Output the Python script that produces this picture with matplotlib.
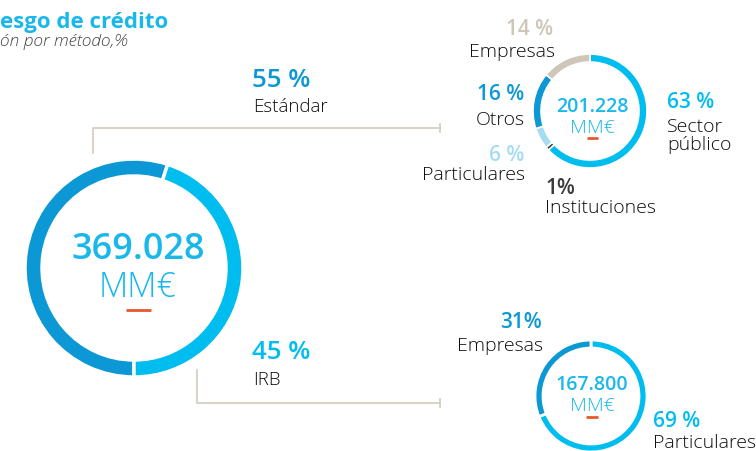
import matplotlib
matplotlib.use("Agg")
from matplotlib import pyplot as plt

plt.rcParams['font.family'] = ['Open Sans', 'DejaVu Sans']

# picture size in pixels
W, H = 756, 451

# data
main_labels = ["Estándar", "IRB"]
main_values = [55, 45]
main_total = "369.028"

std_labels = ["Sector\npúblico", "Instituciones", "Particulares", "Otros", "Empresas"]
std_values = [63, 1, 6, 16, 14]
std_total = "201.228"

irb_labels = ["Particulares", "Empresas"]
irb_values = [69, 31]
irb_total = "167.800"

# colours
BLUE = '#0B98D5'
LIGHT = '#00BDF0'
PALE = '#A6DCF0'
BEIGE = '#CEC6B6'
DARK = '#3A3A3A'
TXT = '#0E0E0E'
NUM = '#1AB8EA'
ORANGE = '#E8582C'
LINE = '#D2CABD'

fig = plt.figure(figsize=(W / 100, H / 100), dpi=100)
ax = fig.add_axes([0, 0, 1, 1])


def donut(values, colors, cx, cy, r, w, start, lw):
    ax.pie(values, colors=colors, startangle=start, counterclock=False,
           radius=r, center=(cx, H - cy),
           wedgeprops=dict(width=w, edgecolor='white', linewidth=lw))


def txt(x, y, s, size, color, weight='light', ha='left', style='normal'):
    # y is the baseline, measured from the top of the picture
    ax.text(x, H - y, s, fontsize=size, color=color, fontweight=weight,
            ha=ha, va='baseline', fontstyle=style)


def centre(cx, y_num, y_unit, y_dash, half, total, s1, s2):
    txt(cx, y_num, total, s1, NUM, 'semibold', 'center')
    txt(cx, y_unit, "MM€", s2, NUM, 'light', 'center')
    ax.plot([cx - half, cx + half], [H - y_dash, H - y_dash], color=ORANGE, lw=2,
            solid_capstyle='butt')


# main donut
donut(main_values, [BLUE, LIGHT], 134, 268, 109, 17, -90, 2.5)
centre(138, 259, 297, 310, 12.5, main_total, 26, 24.5)

# Estándar breakdown
donut(std_values, [LIGHT, DARK, PALE, BLUE, BEIGE], 590, 111, 57, 8, 90, 1.2)
centre(592, 112, 133, 138, 5.5, std_total, 14, 14)

# IRB breakdown
donut(irb_values, [LIGHT, BLUE], 591, 396, 56, 8, 90, 2)
centre(592, 390, 411, 417, 6, irb_total, 14, 14)

# connector lines
ax.plot([93, 93, 440], [H - 153, H - 128, H - 128], color=LINE, lw=1.2)
ax.plot([440, 440], [H - 124, H - 132], color=LINE, lw=1.2)
ax.plot([197, 197, 440], [H - 370, H - 403, H - 403], color=LINE, lw=1.2)
ax.plot([440, 440], [H - 399, H - 407], color=LINE, lw=1.2)

# title
txt(0, 28, "esgo de crédito", 16, NUM, 'bold')
txt(0, 46, "ón por método,%", 12.5, '#444444', 'light', style='italic')

# main labels
txt(252, 87, f"{main_values[0]} %", 18.5, BLUE, 'semibold')
txt(253, 112, main_labels[0], 13.5, TXT)
txt(252, 359, f"{main_values[1]} %", 18.5, LIGHT, 'semibold')
txt(253, 385, main_labels[1], 13.5, TXT)

# Estándar labels
txt(667, 108, f"{std_values[0]} %", 15, LIGHT, 'semibold')
txt(667, 132, "Sector", 14, TXT)
txt(667, 150, "público", 14, TXT)
txt(545, 194, f"{std_values[1]}%", 15, DARK, 'semibold')
txt(545, 213, std_labels[1], 14, TXT)
txt(524, 161, f"{std_values[2]} %", 15, PALE, 'semibold', 'right')
txt(525, 180, std_labels[2], 14, TXT, ha='right')
txt(524, 100, f"{std_values[3]} %", 15, BLUE, 'semibold', 'right')
txt(525, 125, std_labels[3], 14, TXT, ha='right')
txt(553, 35, f"{std_values[4]} %", 15, BEIGE, 'semibold', 'right')
txt(555, 57, std_labels[4], 14, TXT, ha='right')

# IRB labels
txt(653, 427, f"{irb_values[0]} %", 15, LIGHT, 'semibold')
txt(653, 448, irb_labels[0], 14, TXT)
txt(542, 328, f"{irb_values[1]}%", 15, BLUE, 'semibold', 'right')
txt(543, 351, irb_labels[1], 14, TXT, ha='right')

ax.set_xlim(0, W)
ax.set_ylim(0, H)
ax.set_aspect('equal')
ax.axis('off')

fig.savefig("out.png", dpi=100, facecolor='white')
